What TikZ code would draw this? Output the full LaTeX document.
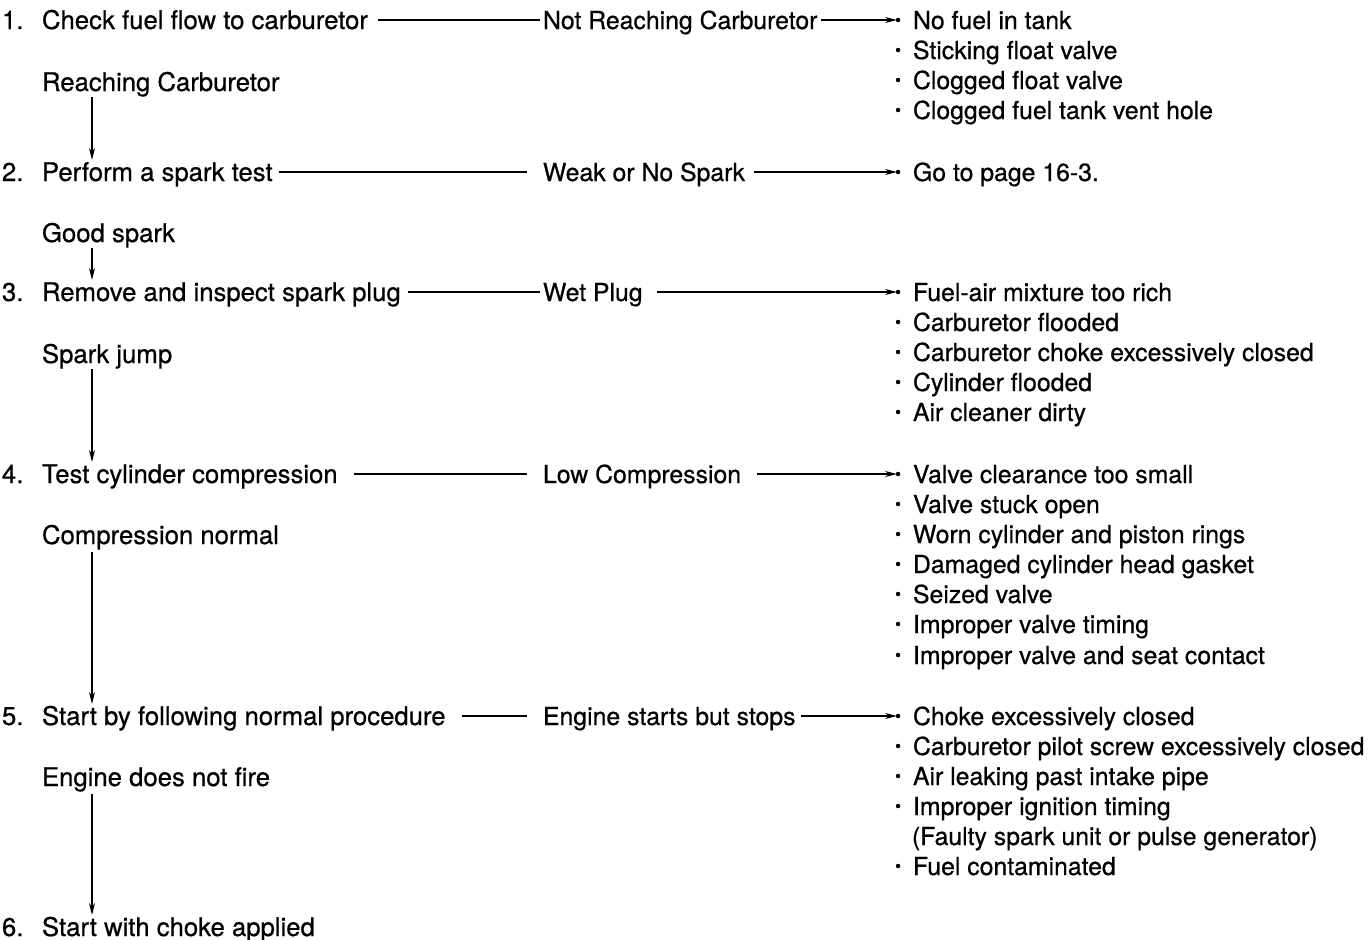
\documentclass[tikz,border=0pt]{standalone}
\usepackage{fontspec}
\setmainfont{TeX Gyre Heros}[FakeBold=0.6]
\usetikzlibrary{arrows.meta}
\begin{document}
\begin{tikzpicture}[x=1pt,y=-1pt,
  txt/.style={anchor=west,inner sep=0pt,outer sep=0pt,text height=18pt,text depth=0pt,
    font=\fontsize{25.7}{30}\selectfont},
  rtxt/.style={txt,font=\fontsize{24.8}{30}\selectfont},
  bul/.style={circle,fill=black,inner sep=0pt,minimum size=4.5pt,xshift=-12.5pt},
  itm/.style={rtxt,label={[bul]left:{}}},
  ln/.style={line width=1.5pt},
  arr/.style={ln,-{Stealth[length=12pt,width=6pt]}}
]
\fill[white] (0,0) rectangle (1369,940);
\useasboundingbox (0,0) rectangle (1369,940);

% steps
\node[txt] (s1) at (2,20)  {\makebox[40pt][l]{1.}Check fuel flow to carburetor};
\node[txt] (s2) at (2,172) {\makebox[40pt][l]{2.}Perform a spark test};
\node[txt] (s3) at (2,292) {\makebox[40pt][l]{3.}Remove and inspect spark plug};
\node[txt] (s4) at (2,474) {\makebox[40pt][l]{4.}Test cylinder compression};
\node[txt] (s5) at (2,716) {\makebox[40pt][l]{5.}Start by following normal procedure};
\node[txt] (s6) at (2,927) {\makebox[40pt][l]{6.}Start with choke applied};

% pass conditions
\node[txt] (c1) at (42,82)  {Reaching Carburetor};
\node[txt] (c2) at (42,233) {Good spark};
\node[txt] (c3) at (42,354) {Spark jump};
\node[txt] (c4) at (42,535) {Compression normal};
\node[txt] (c5) at (42,777) {Engine does not fire};

% fail conditions
\node[rtxt] (r1) at (543,20)  {Not Reaching Carburetor};
\node[rtxt] (r2) at (543,172) {Weak or No Spark};
\node[rtxt] (r3) at (543,292) {Wet Plug};
\node[rtxt] (r4) at (543,474) {Low Compression};
\node[rtxt] (r5) at (543,716) {Engine starts but stops};

% causes
\node[itm] (i1a) at (913,20)  {No fuel in tank};
\node[itm] (i1b) at (913,50)  {Sticking float valve};
\node[itm] (i1c) at (913,80)  {Clogged float valve};
\node[itm] (i1d) at (913,110) {Clogged fuel tank vent hole};

\node[itm] (i2a) at (913,172) {Go to page 16-3.};

\node[itm] (i3a) at (913,292) {Fuel-air mixture too rich};
\node[itm] (i3b) at (913,322) {Carburetor flooded};
\node[itm] (i3c) at (913,352) {Carburetor choke excessively closed};
\node[itm] (i3d) at (913,382) {Cylinder flooded};
\node[itm] (i3e) at (913,412) {Air cleaner dirty};

\node[itm] (i4a) at (913,474) {Valve clearance too small};
\node[itm] (i4b) at (913,504) {Valve stuck open};
\node[itm] (i4c) at (913,534) {Worn cylinder and piston rings};
\node[itm] (i4d) at (913,564) {Damaged cylinder head gasket};
\node[itm] (i4e) at (913,594) {Seized valve};
\node[itm] (i4f) at (913,624) {Improper valve timing};
\node[itm] (i4g) at (913,655) {Improper valve and seat contact};

\node[itm] (i5a) at (913,716) {Choke excessively closed};
\node[itm] (i5b) at (913,746) {Carburetor pilot screw excessively closed};
\node[itm] (i5c) at (913,776) {Air leaking past intake pipe};
\node[itm] (i5d) at (913,806) {Improper ignition timing};
\node[rtxt] (i5e) at (912,836) {(Faulty spark unit or pulse generator)};
\node[itm] (i5f) at (913,866) {Fuel contaminated};

% step -> fail condition lines
\draw[ln] ([xshift=10pt]s1.east) -- ([xshift=-3pt]r1.west);
\draw[ln] ([xshift=6pt]s2.east) -- ([xshift=-16pt]r2.west);
\draw[ln] ([xshift=7pt]s3.east) -- ([xshift=-3pt]r3.west);
\draw[ln] ([xshift=16pt]s4.east) -- ([xshift=-16pt]r4.west);
\draw[ln] ([xshift=16pt]s5.east) -- ([xshift=-16pt]r5.west);

% fail condition -> causes
\draw[arr] ([xshift=4pt]r1.east) -- ([xshift=-16pt]i1a.west);
\draw[arr] ([xshift=9pt]r2.east) -- ([xshift=-16pt]i2a.west);
\draw[arr] ([xshift=14pt]r3.east) -- ([xshift=-16pt]i3a.west);
\draw[arr] ([xshift=16pt]r4.east) -- ([xshift=-16pt]i4a.west);
\draw[arr] ([xshift=5pt]r5.east) -- ([xshift=-16pt]i5a.west);

% vertical flow
\draw[arr] ([xshift=50pt,yshift=-6pt]c1.south west) -- ([xshift=50pt,yshift=3pt]c1.south west |- s2.north);
\draw[arr] ([xshift=50pt,yshift=-6pt]c2.south west) -- ([xshift=50pt,yshift=3pt]c2.south west |- s3.north);
\draw[arr] ([xshift=50pt,yshift=-6pt]c3.south west) -- ([xshift=50pt,yshift=3pt]c3.south west |- s4.north);
\draw[arr] ([xshift=50pt,yshift=-8pt]c4.south west) -- ([xshift=50pt,yshift=3pt]c4.south west |- s5.north);
\draw[arr] ([xshift=50pt,yshift=-8pt]c5.south west) -- ([xshift=50pt,yshift=3pt]c5.south west |- s6.north);
\end{tikzpicture}
\end{document}
